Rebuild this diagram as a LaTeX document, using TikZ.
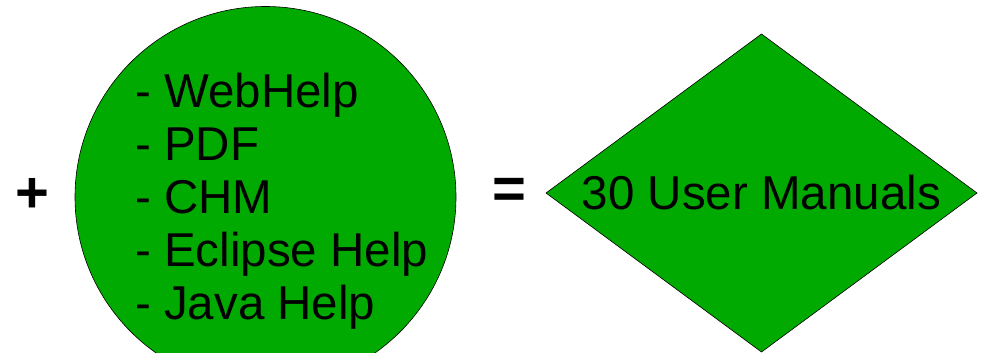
\documentclass[tikz,border=0pt]{standalone}
\usepackage{fontspec}
\setmainfont{Liberation Sans}
\definecolor{shapegreen}{RGB}{0,170,0}
\tikzset{
  bigtext/.style={font=\fontsize{47.5}{53}\selectfont, text=black, inner sep=0pt},
  optext/.style={font=\fontsize{58}{64}\selectfont\bfseries, text=black, inner sep=0pt},
  greenshape/.style={draw=black, line width=0.6pt, fill=shapegreen, inner sep=0pt}
}
\begin{document}
\begin{tikzpicture}[x=1pt,y=-1pt]
\useasboundingbox (0,0) rectangle (983,353);
\clip (0,0) rectangle (983,353);
\node[greenshape, circle, minimum size=381pt] (formats) at (265.5,197) {};
\coordinate (dtop) at (761.5,34);
\coordinate (dright) at (977,193);
\coordinate (dbottom) at (761.5,352);
\coordinate (dleft) at (546,193);
\draw[greenshape] (dtop) -- (dright) -- (dbottom) -- (dleft) -- cycle;
\node[bigtext] (manuals) at (761.5,193) {30 User Manuals};
\node[bigtext, anchor=base west] (l1) at (135,107) {- WebHelp};
\node[bigtext, anchor=base west] (l2) at (135,160) {- PDF};
\node[bigtext, anchor=base west] (l3) at (135,213) {- CHM};
\node[bigtext, anchor=base west] (l4) at (135,266) {- Eclipse Help};
\node[bigtext, anchor=base west] (l5) at (135,319) {- Java Help};
\node[optext] (plus) at (32.5,195) {+};
\node[optext] (equals) at (509,193) {=};
\end{tikzpicture}
\end{document}
